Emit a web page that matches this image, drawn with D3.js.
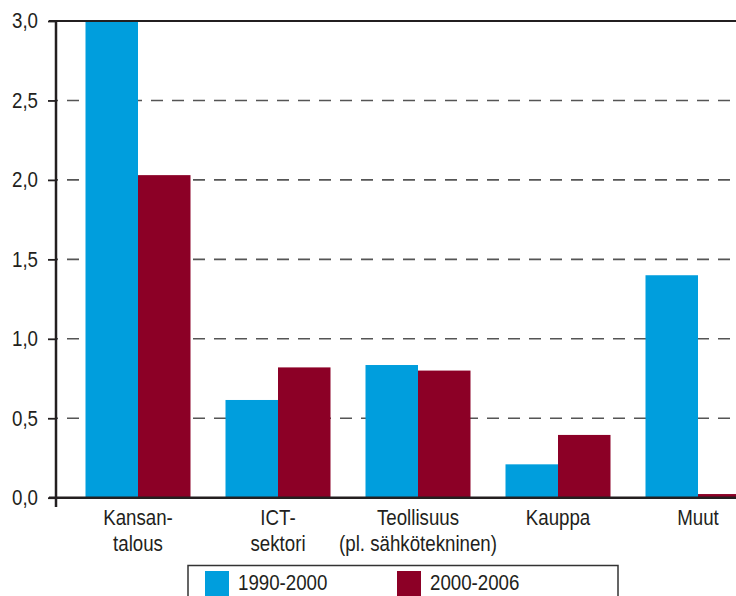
<!DOCTYPE html>
<html>
<head>
<meta charset="utf-8">
<script src="https://cdn.jsdelivr.net/npm/d3@7"></script>
<style>
  html, body { margin: 0; padding: 0; background: #fff; }
  svg { display: block; }
  text { font-family: "Liberation Sans", Arial, sans-serif; fill: #231f20; }
</style>
</head>
<body>
<svg id="chart" width="736" height="596"></svg>
<script>
// Sector groups (multi-line labels) and the two periods compared
const categories = [
  ["Kansan-", "talous"],
  ["ICT-", "sektori"],
  ["Teollisuus", "(pl. sähkötekninen)"],
  ["Kauppa"],
  ["Muut"]
];
const series = ["1990-2000", "2000-2006"];
const values1990 = [3.0, 0.615, 0.835, 0.21, 1.40];
const values2000 = [2.03, 0.82, 0.80, 0.395, 0.023];
const yTicks = [0, 0.5, 1.0, 1.5, 2.0, 2.5, 3.0];
const seriesColors = ["#009edd", "#8c0026"];

// condensed look: regular sans squeezed horizontally
const FS = 21.5;
const SQ = 0.87;

const svg = d3.select("#chart");
const W = 736, H = 596;
const axisX = 56;

const rows = categories.map((c, i) => ({
  key: i, label: c, vals: [values1990[i], values2000[i]]
}));

const x0 = d3.scaleBand()
  .domain(rows.map(d => d.key))
  .range([68, 768])
  .paddingInner(0.25)
  .paddingOuter(0.125);

const x1 = d3.scaleBand()
  .domain(series)
  .range([0, x0.bandwidth()]);

const y = d3.scaleLinear().domain([0, 3]).range([497.7, 21]);
const fmt = v => d3.format(".1f")(v).replace(".", ",");

// dashed gridlines
svg.append("g")
  .selectAll("line")
  .data(yTicks.filter(t => t > 0 && t < 3))
  .join("line")
  .attr("x1", axisX).attr("x2", W)
  .attr("y1", d => y(d)).attr("y2", d => y(d))
  .attr("stroke", "#555")
  .attr("stroke-width", 1.6)
  .attr("stroke-dasharray", "12 9")
  .attr("stroke-dashoffset", 10);

// bars
const groups = svg.append("g")
  .selectAll("g")
  .data(rows)
  .join("g")
  .attr("transform", d => `translate(${x0(d.key)},0)`);

groups.selectAll("rect")
  .data(d => d.vals.map((v, j) => ({ s: series[j], v, j })))
  .join("rect")
  .attr("x", d => x1(d.s))
  .attr("width", x1.bandwidth())
  .attr("y", d => y(d.v))
  .attr("height", d => y(0) - y(d.v))
  .attr("fill", d => seriesColors[d.j]);

// top frame line and baseline
svg.append("line")
  .attr("x1", axisX - 7).attr("x2", W)
  .attr("y1", y(3)).attr("y2", y(3))
  .attr("stroke", "#231f20").attr("stroke-width", 2);
svg.append("line")
  .attr("x1", axisX - 7).attr("x2", W)
  .attr("y1", y(0)).attr("y2", y(0))
  .attr("stroke", "#231f20").attr("stroke-width", 2.5);

// y axis
const yAxis = d3.axisLeft(y)
  .tickValues(yTicks)
  .tickFormat(fmt)
  .tickSize(8)
  .tickPadding(10);
const ga = svg.append("g")
  .attr("transform", `translate(${axisX},0)`)
  .call(yAxis);
ga.select(".domain").remove();
ga.attr("font-size", null).attr("font-family", null);
ga.selectAll(".tick line").attr("stroke", "#231f20").attr("stroke-width", 1.8);
ga.selectAll(".tick text")
  .attr("font-size", FS)
  .attr("fill", "#231f20")
  .attr("x", -18 / SQ)
  .attr("transform", `scale(${SQ},1)`);
svg.append("line")
  .attr("x1", axisX).attr("x2", axisX)
  .attr("y1", y(3) - 1).attr("y2", 507)
  .attr("stroke", "#231f20").attr("stroke-width", 2.5);

// category labels
const lab = svg.append("g")
  .selectAll("text")
  .data(rows)
  .join("text")
  .attr("text-anchor", "middle")
  .attr("font-size", FS)
  .attr("transform", d => `translate(${x0(d.key) + x0.bandwidth() / 2},525) scale(${SQ},1)`);
lab.selectAll("tspan")
  .data(d => d.label)
  .join("tspan")
  .attr("x", 0)
  .attr("dy", (d, i) => i === 0 ? 0 : 26)
  .text(d => d);

// legend
const leg = svg.append("g");
leg.append("rect")
  .attr("x", 188).attr("y", 565.5)
  .attr("width", 430).attr("height", 40)
  .attr("fill", "#fff")
  .attr("stroke", "#333").attr("stroke-width", 1.5);
const legX = [205, 397];
const items = leg.selectAll("g.item")
  .data(series)
  .join("g")
  .attr("class", "item")
  .attr("transform", (d, i) => `translate(${legX[i]},571)`);
items.append("rect")
  .attr("width", 24).attr("height", 30)
  .attr("fill", (d, i) => seriesColors[i]);
items.append("text")
  .attr("transform", `translate(33,19) scale(${SQ},1)`)
  .attr("font-size", FS)
  .text(d => d);
</script>
</body>
</html>
